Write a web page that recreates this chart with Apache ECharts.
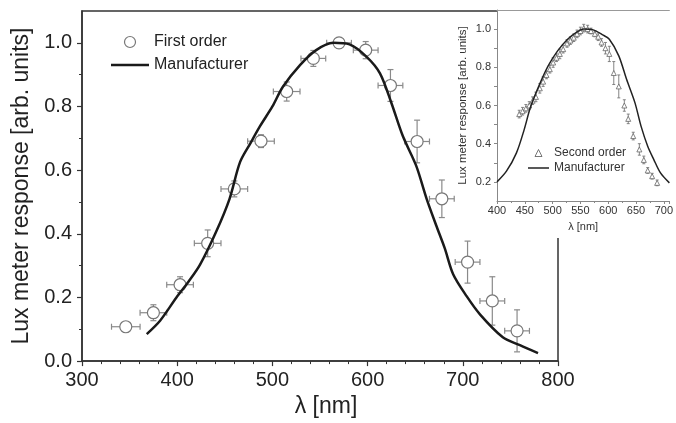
<!DOCTYPE html>
<html>
<head>
  <meta charset="utf-8" />
  <title>Lux meter response</title>
  <script src="https://cdn.jsdelivr.net/npm/echarts@6/dist/echarts.min.js"></script>
  <style>
    html, body { margin: 0; padding: 0; background: #fff; }
    #chart { width: 676px; height: 423px; }
  </style>
</head>
<body>
  <div id="chart"></div>
  <script>
    // main plot: first order measurement (wavelength nm, response, x error, y error)
    var firstX = [346, 375, 403, 432, 460, 488, 515, 543, 570, 598, 624, 652, 678, 705, 731, 757];
    var firstY = [0.108, 0.152, 0.240, 0.370, 0.541, 0.691, 0.847, 0.951, 1.0, 0.977, 0.866, 0.690, 0.510, 0.311, 0.189, 0.095];
    var firstXErr = [15, 14, 14, 14, 14, 14, 14, 13, 13, 13, 13, 13, 13, 13, 13, 13];
    var firstYErr = [0.01, 0.025, 0.025, 0.042, 0.025, 0.02, 0.03, 0.025, 0.01, 0.027, 0.05, 0.067, 0.059, 0.066, 0.076, 0.066];

    // main plot: manufacturer curve
    var mfrX = [368, 382, 399, 412, 424, 441, 455, 466, 477, 487, 500, 511, 529, 546, 564, 581, 599, 613, 625, 637, 651, 662, 672, 681, 690, 704, 718, 742, 760, 779];
    var mfrY = [0.085, 0.127, 0.199, 0.25, 0.303, 0.407, 0.51, 0.625, 0.685, 0.738, 0.80, 0.862, 0.93, 0.977, 1.0, 0.995, 0.956, 0.904, 0.811, 0.707, 0.614, 0.51, 0.427, 0.355, 0.272, 0.204, 0.147, 0.075, 0.05, 0.025];

    // inset: second order measurement
    var secondX = [440, 446, 452, 458, 464, 470, 477, 483, 489, 495, 501, 507, 513, 519, 526, 532, 538, 544, 550, 556, 563, 569, 576, 582, 588, 595, 602, 610, 619, 629, 636, 645, 656, 664, 671, 679, 688];
    var secondY = [0.555, 0.57, 0.585, 0.60, 0.625, 0.645, 0.69, 0.725, 0.76, 0.79, 0.825, 0.85, 0.87, 0.895, 0.925, 0.94, 0.955, 0.975, 0.99, 1.005, 1.0, 0.99, 0.975, 0.96, 0.93, 0.90, 0.87, 0.77, 0.70, 0.60, 0.53, 0.44, 0.37, 0.315, 0.26, 0.23, 0.195];
    var secondYErr = [0.02, 0.02, 0.02, 0.02, 0.02, 0.025, 0.025, 0.025, 0.02, 0.02, 0.025, 0.02, 0.025, 0.02, 0.02, 0.02, 0.02, 0.02, 0.02, 0.02, 0.02, 0.015, 0.015, 0.02, 0.02, 0.03, 0.04, 0.06, 0.06, 0.03, 0.025, 0.02, 0.03, 0.02, 0.015, 0.015, 0.015];

    // inset: manufacturer curve
    var insetMfrX = [400, 417, 435, 449, 460, 475, 492, 509, 527, 544, 556, 573, 590, 602, 619, 633, 648, 659, 671, 682, 694, 710];
    var insetMfrY = [0.2, 0.256, 0.352, 0.475, 0.589, 0.70, 0.807, 0.886, 0.947, 0.986, 1.0, 0.996, 0.97, 0.947, 0.86, 0.737, 0.615, 0.492, 0.387, 0.317, 0.247, 0.195];

    var mainYTicks = [0, 0.2, 0.4, 0.6, 0.8, 1.0];
    var insetYTicks = [0.2, 0.3, 0.4, 0.5, 0.6, 0.7, 0.8, 0.9, 1.0];
    var insetYLabels = [0.2, 0.4, 0.6, 0.8, 1.0];

    var FONT = 'Liberation Sans';

    function zip() {
      var cols = arguments;
      return cols[0].map(function (v, i) {
        return Array.prototype.map.call(cols, function (c) { return c[i]; });
      });
    }

    // error bars drawn through the axes scales
    function errorBars(color, cap, width) {
      return function (params, api) {
        var x = api.value(0), y = api.value(1), ex = api.value(2), ey = api.value(3);
        var st = { stroke: color, lineWidth: width };
        var kids = [];
        if (ex > 0) {
          var l = api.coord([x - ex, y]), r = api.coord([x + ex, y]);
          kids.push({ type: 'line', shape: { x1: l[0], y1: l[1], x2: r[0], y2: r[1] }, style: st });
          kids.push({ type: 'line', shape: { x1: l[0], y1: l[1] - cap, x2: l[0], y2: l[1] + cap }, style: st });
          kids.push({ type: 'line', shape: { x1: r[0], y1: r[1] - cap, x2: r[0], y2: r[1] + cap }, style: st });
        }
        if (ey > 0) {
          var t = api.coord([x, y + ey]), b = api.coord([x, y - ey]);
          kids.push({ type: 'line', shape: { x1: t[0], y1: t[1], x2: b[0], y2: b[1] }, style: st });
          kids.push({ type: 'line', shape: { x1: t[0] - cap, y1: t[1], x2: t[0] + cap, y2: t[1] }, style: st });
          kids.push({ type: 'line', shape: { x1: b[0] - cap, y1: b[1], x2: b[0] + cap, y2: b[1] }, style: st });
        }
        return { type: 'group', children: kids };
      };
    }

    var chart = echarts.init(document.getElementById('chart'), null, { renderer: 'canvas' });

    chart.setOption({
      animation: false,
      backgroundColor: '#fff',
      textStyle: { fontFamily: FONT },
      grid: [
        { left: 82, top: 11, right: 118, bottom: 59, show: true, borderColor: '#333', borderWidth: 1.5, z: 0 },
        { left: 497, top: 10, right: 0, bottom: 222, z: 6 }
      ],
      graphic: [{
        type: 'polygon',
        z: 5,
        shape: { points: [[456, 12], [497, 12], [497, 0], [676, 0], [676, 238], [456, 238]] },
        style: { fill: '#fff' }
      }],
      legend: [{
        orient: 'vertical', left: 106, top: 29,
        itemWidth: 38, itemHeight: 11, itemGap: 7,
        textStyle: { fontSize: 16, color: '#222', fontFamily: FONT },
        data: [
          { name: 'First order', icon: 'circle', itemStyle: { color: '#fff', borderColor: '#777', borderWidth: 1.2 } },
          { name: 'Manufacturer', icon: 'path://M0,0L38,0L38,2.5L0,2.5Z', itemStyle: { color: '#1a1a1a', borderWidth: 0 } }
        ],
        z: 4
      }, {
        orient: 'vertical', left: 523, top: 142,
        itemWidth: 21, itemHeight: 7, itemGap: 3,
        textStyle: { fontSize: 12, color: '#333', fontFamily: FONT },
        data: [
          { name: 'Second order', icon: 'path://M3.5,0L7,7L0,7Z', itemStyle: { color: '#fff', borderColor: '#555', borderWidth: 0.8 } },
          { name: 'Manufacturer', icon: 'path://M0,0L21,0L21,1.5L0,1.5Z', itemStyle: { color: '#222', borderWidth: 0 } }
        ],
        z: 8
      }],
      xAxis: [{
        gridIndex: 0, type: 'value', min: 300, max: 800, interval: 100,
        name: 'λ [nm]', nameLocation: 'middle', nameGap: 30,
        nameTextStyle: { fontSize: 23, color: '#222', fontFamily: FONT, padding: [0, 0, 0, 12] },
        axisLine: { lineStyle: { color: '#333', width: 1.5 } },
        axisTick: { length: 5, lineStyle: { color: '#333', width: 1.2 } },
        minorTick: { show: true, splitNumber: 5, length: 3, lineStyle: { color: '#333', width: 1 } },
        axisLabel: { fontSize: 20, color: '#222', margin: 9, fontFamily: FONT },
        splitLine: { show: false }
      }, {
        gridIndex: 1, type: 'value', min: 400, max: 710, interval: 50,
        name: 'λ [nm]', nameLocation: 'middle', nameGap: 20,
        nameTextStyle: { fontSize: 11, color: '#333', fontFamily: FONT },
        axisLine: { lineStyle: { color: '#888', width: 1 } },
        axisTick: { length: 3, lineStyle: { color: '#888' } },
        minorTick: { show: true, splitNumber: 2, length: 2, lineStyle: { color: '#888' } },
        axisLabel: { fontSize: 11, color: '#333', margin: 4, fontFamily: FONT },
        splitLine: { show: false }, z: 6
      }, {
        gridIndex: 1, type: 'value', position: 'top', min: 400, max: 710,
        axisLine: { lineStyle: { color: '#999', width: 1 } },
        axisTick: { show: false }, axisLabel: { show: false }, splitLine: { show: false }, z: 6
      }],
      yAxis: [{
        gridIndex: 0, type: 'value', min: 0, max: 1.1, interval: 0.2,
        name: 'Lux meter response [arb. units]', nameLocation: 'middle', nameGap: 47,
        nameTextStyle: { fontSize: 23, color: '#222', fontFamily: FONT },
        axisLine: { lineStyle: { color: '#333', width: 1.5 } },
        axisTick: { length: 5, customValues: mainYTicks, lineStyle: { color: '#333', width: 1.2 } },
        minorTick: { show: true, splitNumber: 2, length: 3, lineStyle: { color: '#333', width: 1 } },
        axisLabel: {
          fontSize: 20, color: '#222', margin: 10, fontFamily: FONT, customValues: mainYTicks,
          formatter: function (v) { return v.toFixed(1); }
        },
        splitLine: { show: false }
      }, {
        gridIndex: 1, type: 'value', min: 0.1, max: 1.1, interval: 0.1,
        name: 'Lux meter response [arb. units]', nameLocation: 'middle', nameGap: 28,
        nameTextStyle: { fontSize: 11.5, color: '#333', fontFamily: FONT },
        axisLine: { lineStyle: { color: '#888', width: 1 } },
        axisTick: { length: 3, customValues: insetYTicks, lineStyle: { color: '#888' } },
        axisLabel: {
          fontSize: 11, color: '#333', margin: 6, fontFamily: FONT, customValues: insetYLabels,
          formatter: function (v) { return v.toFixed(1); }
        },
        splitLine: { show: false }, z: 6
      }],
      series: [{
        name: 'errFirst', type: 'custom', xAxisIndex: 0, yAxisIndex: 0, z: 2,
        renderItem: errorBars('#8a8a8a', 3, 1.2),
        data: zip(firstX, firstY, firstXErr, firstYErr)
      }, {
        name: 'First order', type: 'scatter', xAxisIndex: 0, yAxisIndex: 0, z: 2,
        symbol: 'circle', symbolSize: 12,
        itemStyle: { color: '#fff', borderColor: '#777', borderWidth: 1.2, opacity: 1 },
        data: zip(firstX, firstY)
      }, {
        name: 'Manufacturer', type: 'line', xAxisIndex: 0, yAxisIndex: 0, z: 3,
        symbol: 'none', smooth: 0.3, color: '#1a1a1a',
        lineStyle: { color: '#1a1a1a', width: 2.5 },
        data: zip(mfrX, mfrY)
      }, {
        name: 'errSecond', type: 'custom', xAxisIndex: 1, yAxisIndex: 1, z: 7,
        renderItem: errorBars('#777', 1.5, 0.9),
        data: zip(secondX, secondY, secondX.map(function () { return 0; }), secondYErr)
      }, {
        name: 'Second order', type: 'scatter', xAxisIndex: 1, yAxisIndex: 1, z: 7,
        symbol: 'triangle', symbolSize: 5,
        itemStyle: { color: '#fff', borderColor: '#666', borderWidth: 0.8, opacity: 1 },
        data: zip(secondX, secondY)
      }, {
        name: 'Manufacturer', type: 'line', xAxisIndex: 1, yAxisIndex: 1, z: 8,
        symbol: 'none', smooth: 0.3, color: '#222',
        lineStyle: { color: '#222', width: 1.5 },
        data: zip(insetMfrX, insetMfrY)
      }]
    });
  </script>
</body>
</html>
